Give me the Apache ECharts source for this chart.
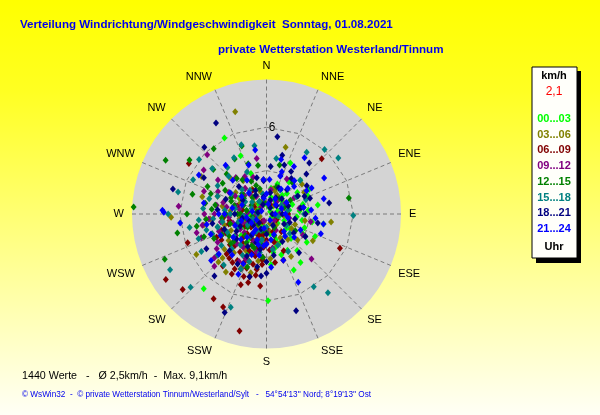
<!DOCTYPE html>
<html>
<head>
<meta charset="utf-8">
<script src="https://cdn.jsdelivr.net/npm/echarts@6/dist/echarts.min.js"></script>
<style>
  html, body { margin: 0; padding: 0; }
  #chart { width: 600px; height: 415px; }
</style>
</head>
<body>
<div id="chart"></div>
<script>
// Richtungen (Uhrzeigersinn ab Nord)
var directions = ['N', 'NNE', 'NE', 'ENE', 'E', 'ESE', 'SE', 'SSE', 'S', 'SSW', 'SW', 'WSW', 'W', 'WNW', 'NW', 'NNW'];

// Zeitfenster und Farben
var hourRanges = ['00...03', '03...06', '06...09', '09...12', '12...15', '15...18', '18...21', '21...24'];
var hourColors = ['#00ff00', '#808000', '#800000', '#800080', '#008000', '#008080', '#000080', '#0000ff'];

// Ringe in km/h
var rings = [3, 6];

// Messwerte je Zeitfenster: [km/h, Richtung in Grad]
var h0003 = [[0.4,120],[0.8,75],[1.2,60],[1.5,95],[1.9,70],[2.3,85],[2.6,55],[1.1,30],[1.7,40],[2.2,20],[0.9,150],[1.4,170],[2.0,140],[2.8,110],[3.1,65],[1.6,200],[2.4,190],[0.6,250],[1.3,230],[2.1,215],[3.0,160],[1.8,10],[2.7,35],[0.7,350],[1.5,330],[3.4,125],[2.5,100],[1.0,205],[2.9,150],[2.2,300],[3.3,45],[1.2,270],[3.9,25],[3.0,339],[4.3,154],[4.1,145],[2.8,118],[6.0,331],[4.4,336],[6.75,220],[6.0,179],[2.0,250],[3.5,200],[1.9,122],[0.5,20],[1.6,80],
    [0.3,60],[0.9,100],[1.3,110],[1.0,85],[1.7,130],[2.1,95],[2.6,75],[1.4,50],[0.8,200],[1.1,180],[1.9,160],[2.3,230],[1.6,260],[0.6,300],[1.2,15],[2.0,45],[2.4,135],[3.2,100],[3.6,80],[1.5,210],[2.7,170],[1.8,240],[3.1,185],[0.9,320],[2.5,60],
    [3.3,140],[2.9,85],[3.7,115],[2.4,165],[3.0,205],[2.6,235],[1.4,280],[2.0,310],[3.4,60],[1.0,130],[0.7,40],[2.2,155],[4.0,100],[3.5,175],[1.7,190]];
var h0306 = [[0.6,200],[1.1,240],[1.5,210],[1.9,260],[2.3,225],[2.7,245],[3.2,235],[0.9,300],[1.4,320],[2.0,290],[2.6,305],[3.1,280],[1.2,170],[1.8,185],[2.5,195],[3.3,205],[0.8,40],[1.3,70],[2.1,110],[2.8,130],[1.7,20],[2.4,355],[3.6,315],[4.0,250],[3.8,190],[4.3,225],[1.0,140],[2.2,160],[3.0,60],[4.5,97],[4.8,16],[7.4,343],[6.6,268],[5.2,300],[3.4,150],[2.9,270],[1.6,345],[0.4,90],[4.9,215],[5.6,240],[2.0,330],[3.7,120],
    [0.5,250],[1.0,215],[1.4,230],[1.8,200],[2.2,250],[2.6,215],[3.0,255],[3.5,220],[0.7,160],[1.3,185],[1.7,280],[2.1,300],[0.9,340],[1.5,30],[2.4,80],[2.0,120],[3.1,175],[3.9,265],[4.6,285],[1.2,95],[2.8,325],[3.3,190],[0.6,15],[1.9,150],[4.1,205],
    [3.4,245],[3.8,230],[2.9,210],[4.2,195],[2.5,275],[3.6,290],[1.6,250],[2.0,180],[4.4,260],[1.1,310],[2.7,100],[3.2,50],[1.8,15],[4.7,225],[2.3,140]];
var h0609 = [[1.2,190],[1.6,200],[2.0,210],[2.4,195],[2.8,205],[3.2,215],[3.5,200],[3.9,190],[4.2,205],[2.2,225],[2.7,235],[3.1,225],[3.6,240],[1.8,180],[2.5,175],[3.0,185],[3.4,170],[4.5,195],[4.0,220],[1.4,230],[0.9,250],[1.3,160],[2.1,250],[2.6,260],[3.3,250],[1.0,300],[1.7,280],[2.3,320],[0.7,20],[1.5,90],[4.8,210],[5.2,200],[8.3,193],[8.3,237],[7.8,228],[6.9,212],[7.1,205],[5.6,115],[5.4,45],[6.4,303],[5.8,250],[4.4,230],[2.9,200],[3.8,212],
    [0.6,210],[1.0,180],[1.4,200],[1.9,215],[2.3,185],[2.6,220],[3.0,195],[3.3,230],[3.7,205],[4.1,215],[4.6,200],[2.0,165],[2.8,155],[1.7,240],[2.5,270],[0.8,120],[1.2,60],[1.9,330],[3.5,185],[4.3,190],[3.9,225],[2.2,205],[1.5,190],[5.0,185],[3.1,245],
    [3.6,195],[4.0,200],[4.4,210],[3.2,185],[2.9,230],[3.8,245],[4.7,220],[2.4,170],[3.4,160],[2.7,255],[1.9,225],[4.9,195],[3.0,265],[1.6,140],[2.1,285]];
var h0912 = [[0.8,260],[1.3,275],[1.8,250],[2.2,285],[2.6,265],[3.0,300],[3.5,280],[4.0,265],[1.1,230],[1.6,215],[2.1,240],[2.9,225],[3.4,245],[0.6,320],[1.4,330],[2.0,310],[2.7,340],[3.3,320],[1.2,180],[1.9,195],[2.4,170],[0.9,90],[1.5,60],[2.3,80],[3.1,100],[4.6,290],[5.0,255],[5.3,305],[4.2,235],[6.1,275],[5.8,315],[3.8,210],[1.7,10],[2.8,30],[4.4,135],[3.9,350],[5.1,225],
    [0.5,200],[1.0,250],[1.5,265],[2.0,230],[2.4,255],[2.8,280],[3.2,260],[3.7,295],[1.2,300],[1.8,320],[2.5,300],[0.7,130],[1.3,150],[2.1,205],[2.7,195],[3.6,225],[1.1,40],[1.6,100],[2.2,60],[4.3,270],[4.8,250],[3.0,330],[1.9,280],[2.6,235],[0.9,15],
    [3.5,250],[3.9,240],[4.5,260],[3.1,285],[2.8,215],[3.4,205],[4.1,305],[2.3,320],[1.5,245],[2.0,180],[1.2,70],[2.9,120],[4.7,230],[3.6,270],[1.8,300]];
var h1215 = [[0.7,280],[1.2,300],[1.7,290],[2.2,310],[2.7,295],[3.2,320],[3.7,305],[4.1,290],[1.5,260],[2.0,270],[2.6,255],[3.1,265],[3.6,280],[1.0,330],[1.8,345],[2.5,335],[3.4,350],[4.4,330],[0.9,220],[1.6,235],[2.4,215],[3.0,240],[1.3,180],[2.1,190],[1.9,60],[2.8,40],[3.5,15],[4.8,310],[5.3,285],[5.0,340],[7.9,298],[9.2,273],[5.8,321],[5.8,79],[7.7,246],[6.3,258],[4.6,250],[5.5,270],[2.3,120],[3.9,200],[6.5,305],
    [0.5,300],[1.0,260],[1.4,280],[1.9,305],[2.3,285],[2.8,270],[3.3,300],[3.8,275],[1.1,240],[1.7,215],[2.2,250],[2.9,230],[0.8,350],[1.5,320],[2.1,340],[2.9,325],[0.6,100],[1.3,70],[2.0,20],[1.6,160],[2.5,200],[4.2,265],[4.5,295],[3.4,245],[1.2,195],
    [3.5,255],[4.0,245],[3.2,230],[4.3,280],[2.6,290],[3.9,315],[2.1,225],[1.8,270],[2.4,205],[3.0,185],[1.4,40],[2.6,80],[4.9,260],[3.7,340],[1.1,150]];
var h1518 = [[1.0,250],[1.6,265],[2.2,245],[2.9,275],[3.5,255],[4.1,285],[4.7,265],[1.3,310],[2.0,325],[2.8,300],[3.7,315],[4.5,330],[1.2,200],[1.9,215],[2.7,190],[3.4,225],[4.2,205],[0.8,100],[1.5,80],[2.4,60],[3.3,45],[2.1,130],[3.0,150],[5.2,240],[5.6,295],[6.0,42],[6.3,52],[5.1,33],[5.1,340],[6.0,309],[6.3,284],[6.8,270],[7.7,240],[7.3,226],[6.9,201],[6.0,147],[6.9,142],[6.0,91],[4.8,350],[3.9,10],[5.4,260],[4.4,230],
    [0.6,270],[1.1,290],[1.5,240],[2.0,255],[2.5,270],[3.1,260],[3.6,290],[4.0,250],[1.0,330],[1.7,300],[2.4,315],[3.2,335],[0.9,180],[1.4,210],[2.1,195],[2.8,220],[3.5,200],[1.2,60],[1.9,30],[2.6,90],[1.6,120],[2.3,160],[4.4,275],[4.9,310],[3.8,235],
    [3.0,245],[3.7,265],[4.3,255],[3.3,210],[4.6,220],[2.7,235],[3.9,300],[2.2,280],[1.8,190],[2.5,170],[3.1,120],[2.9,70],[4.2,320],[5.0,250],[1.4,350]];
var h1821 = [[0.5,30],[1.0,15],[1.5,45],[2.0,25],[2.5,60],[3.0,35],[3.6,20],[1.2,350],[1.8,335],[2.6,345],[3.3,5],[1.1,90],[1.7,110],[2.4,80],[3.2,70],[1.4,180],[2.1,200],[2.9,170],[3.7,190],[4.3,185],[1.3,250],[2.2,270],[3.0,290],[3.8,260],[0.8,220],[2.7,230],[4.0,210],[7.2,331],[6.3,317],[5.4,8],[6.7,285],[7.0,163],[7.4,203],[4.4,80],[4.6,40],[5.0,300],[3.5,140],[4.8,240],[2.3,125],[5.6,220],
    [0.4,90],[0.9,50],[1.3,30],[1.6,70],[2.2,40],[2.8,20],[3.4,55],[0.7,340],[1.5,10],[2.3,355],[0.9,150],[1.4,120],[2.0,100],[2.7,90],[1.1,200],[1.8,215],[2.5,190],[3.2,205],[1.7,260],[2.4,240],[3.1,250],[0.6,280],[1.9,300],[3.9,45],[4.1,180],
    [3.4,30],[2.9,65],[3.6,100],[2.2,150],[3.3,180],[4.5,195],[2.6,210],[3.6,225],[2.0,245],[3.4,275],[2.7,315],[1.5,330],[4.2,15],[3.1,120],[1.2,230]];
var h2124 = [[0.4,300],[0.9,45],[1.3,90],[1.7,135],[2.1,180],[2.5,225],[2.9,270],[3.3,315],[0.7,10],[1.1,70],[1.5,160],[1.9,200],[2.3,250],[2.7,330],[3.1,20],[3.6,60],[4.0,110],[1.2,240],[1.8,290],[2.4,355],[3.0,40],[3.4,95],[3.8,205],[4.2,260],[1.6,215],[2.2,195],[2.8,235],[1.0,280],[2.0,30],[2.6,80],[4.5,350],[4.7,34],[4.1,75],[7.1,271],[6.0,264],[5.2,155],[7.2,272],[4.7,58],[4.0,100],[5.0,230],[5.4,300],[3.7,175],[4.4,320],[1.4,0],
    [0.5,150],[0.8,240],[1.2,30],[1.5,100],[1.8,170],[2.1,220],[2.4,280],[2.8,20],[3.2,60],[0.6,90],[1.0,190],[1.4,260],[1.9,320],[2.3,40],[2.6,115],[3.0,200],[3.5,245],[1.1,350],[1.6,60],[2.0,140],[2.9,300],[3.9,15],[4.3,230],[1.3,215],[2.2,185],
    [3.3,270],[3.7,220],[4.1,250],[2.9,190],[3.4,160],[2.5,130],[3.1,85],[2.7,45],[3.6,340],[2.1,305],[1.8,255],[4.4,280],[3.8,30],[4.6,205],[2.4,5]];

var seriesData = [h0003, h0306, h0609, h0912, h1215, h1518, h1821, h2124];

var chartDom = document.getElementById('chart');
var myChart = echarts.init(chartDom);

var cx = 266.5, cy = 214, rad = 134.5;
var maxSpeed = 9.3;
var font = '"Liberation Sans", Arial, sans-serif';
var gridColor = '#7a7a7a';

var series = [];

// gestrichelte 16-Ecke fuer die Ringe, Ecken auf den Richtungsstrahlen
for (var r = 0; r < rings.length; r++) {
    var ringPts = [];
    for (var d = 0; d <= directions.length; d++) {
        ringPts.push([rings[r], d * 360 / directions.length]);
    }
    series.push({
        name: 'ring' + rings[r],
        type: 'line',
        coordinateSystem: 'polar',
        showSymbol: false,
        silent: true,
        zlevel: 1,
        z: 1,
        lineStyle: { color: gridColor, type: [4, 3], width: 1 },
        data: ringPts
    });
}

for (var i = 0; i < seriesData.length; i++) {
    series.push({
        name: hourRanges[i],
        type: 'scatter',
        coordinateSystem: 'polar',
        symbol: 'diamond',
        symbolSize: [6, 7],
        zlevel: 1,
        z: 5,
        itemStyle: { color: hourColors[i], opacity: 1 },
        data: seriesData[i]
    });
}

// grauer Kreis als Hintergrund, Legende als Kasten rechts
var graphics = [
    { type: 'circle', zlevel: 0, silent: true, shape: { cx: cx, cy: cy, r: rad }, style: { fill: '#d4d4d4' } },
    { type: 'rect', shape: { x: 536, y: 71, width: 45, height: 192 }, style: { fill: '#000' } },
    { type: 'rect', shape: { x: 532, y: 67, width: 45, height: 191 }, style: { fill: '#fffffa', stroke: '#000', lineWidth: 1 } },
    { type: 'text', x: 554, y: 76, style: { text: 'km/h', fill: '#000', font: 'bold 11px ' + font, align: 'center', verticalAlign: 'middle' } },
    { type: 'text', x: 554, y: 92, style: { text: '2,1', fill: '#ff0000', font: '12px ' + font, align: 'center', verticalAlign: 'middle' } },
    { type: 'text', x: 554, y: 247, style: { text: 'Uhr', fill: '#000', font: 'bold 11px ' + font, align: 'center', verticalAlign: 'middle' } }
];
for (var k = 0; k < hourRanges.length; k++) {
    graphics.push({
        type: 'text', x: 554, y: 119 + k * 15.7,
        style: { text: hourRanges[k], fill: hourColors[k], font: 'bold 11px ' + font, align: 'center', verticalAlign: 'middle' }
    });
}

option = {
    animation: false,
    backgroundColor: {
        type: 'linear', x: 0, y: 0, x2: 0, y2: 1,
        colorStops: [
            { offset: 0, color: '#ffff00' },
            { offset: 0.22, color: '#ffff22' },
            { offset: 1, color: '#fffff6' }
        ]
    },
    title: [
        {
            text: 'Verteilung Windrichtung/Windgeschwindigkeit  Sonntag, 01.08.2021',
            left: 20, top: 19, padding: 0,
            textStyle: { color: '#0000ee', fontSize: 11.6, fontWeight: 'bold', fontFamily: 'Liberation Sans' }
        },
        {
            text: 'private Wetterstation Westerland/Tinnum',
            left: 218, top: 44, padding: 0,
            textStyle: { color: '#0000ee', fontSize: 11.6, fontWeight: 'bold', fontFamily: 'Liberation Sans' }
        },
        {
            text: '1440 Werte   -   Ø 2,5km/h  -  Max. 9,1km/h',
            left: 22, top: 371, padding: 0,
            textStyle: { color: '#000', fontSize: 10.7, fontWeight: 'normal', fontFamily: 'Liberation Sans' }
        },
        {
            text: '© WsWin32  -  © private Wetterstation Tinnum/Westerland/Sylt   -   54°54\'13\'\' Nord; 8°19\'13\'\' Ost',
            left: 22, top: 391, padding: 0,
            textStyle: { color: '#0000ee', fontSize: 8.2, fontWeight: 'normal', fontFamily: 'Liberation Sans' }
        }
    ],
    polar: { center: [cx, cy], radius: rad },
    angleAxis: {
        type: 'value',
        min: 0,
        max: 360,
        interval: 22.5,
        startAngle: 90,
        clockwise: true,
        zlevel: 1,
        axisLine: { show: false },
        axisTick: { show: false },
        axisLabel: {
            margin: 8,
            color: '#000',
            fontSize: 11,
            fontFamily: 'Liberation Sans',
            formatter: function (v) {
                if (v >= 360) return '';
                return directions[Math.round(v / 22.5) % 16];
            }
        },
        splitLine: { show: true, lineStyle: { color: gridColor, type: [4, 3], width: 1 } }
    },
    radiusAxis: {
        type: 'value',
        min: 0,
        max: maxSpeed,
        interval: 3,
        zlevel: 1,
        axisLine: { show: false },
        axisTick: { show: false },
        axisLabel: {
            color: '#000',
            fontSize: 12,
            margin: -9,
            fontFamily: 'Liberation Sans',
            formatter: function (v) { return v === 6 ? '6' : ''; }
        },
        splitLine: { show: false }
    },
    graphic: graphics,
    series: series
};

option && myChart.setOption(option);
</script>
</body>
</html>
